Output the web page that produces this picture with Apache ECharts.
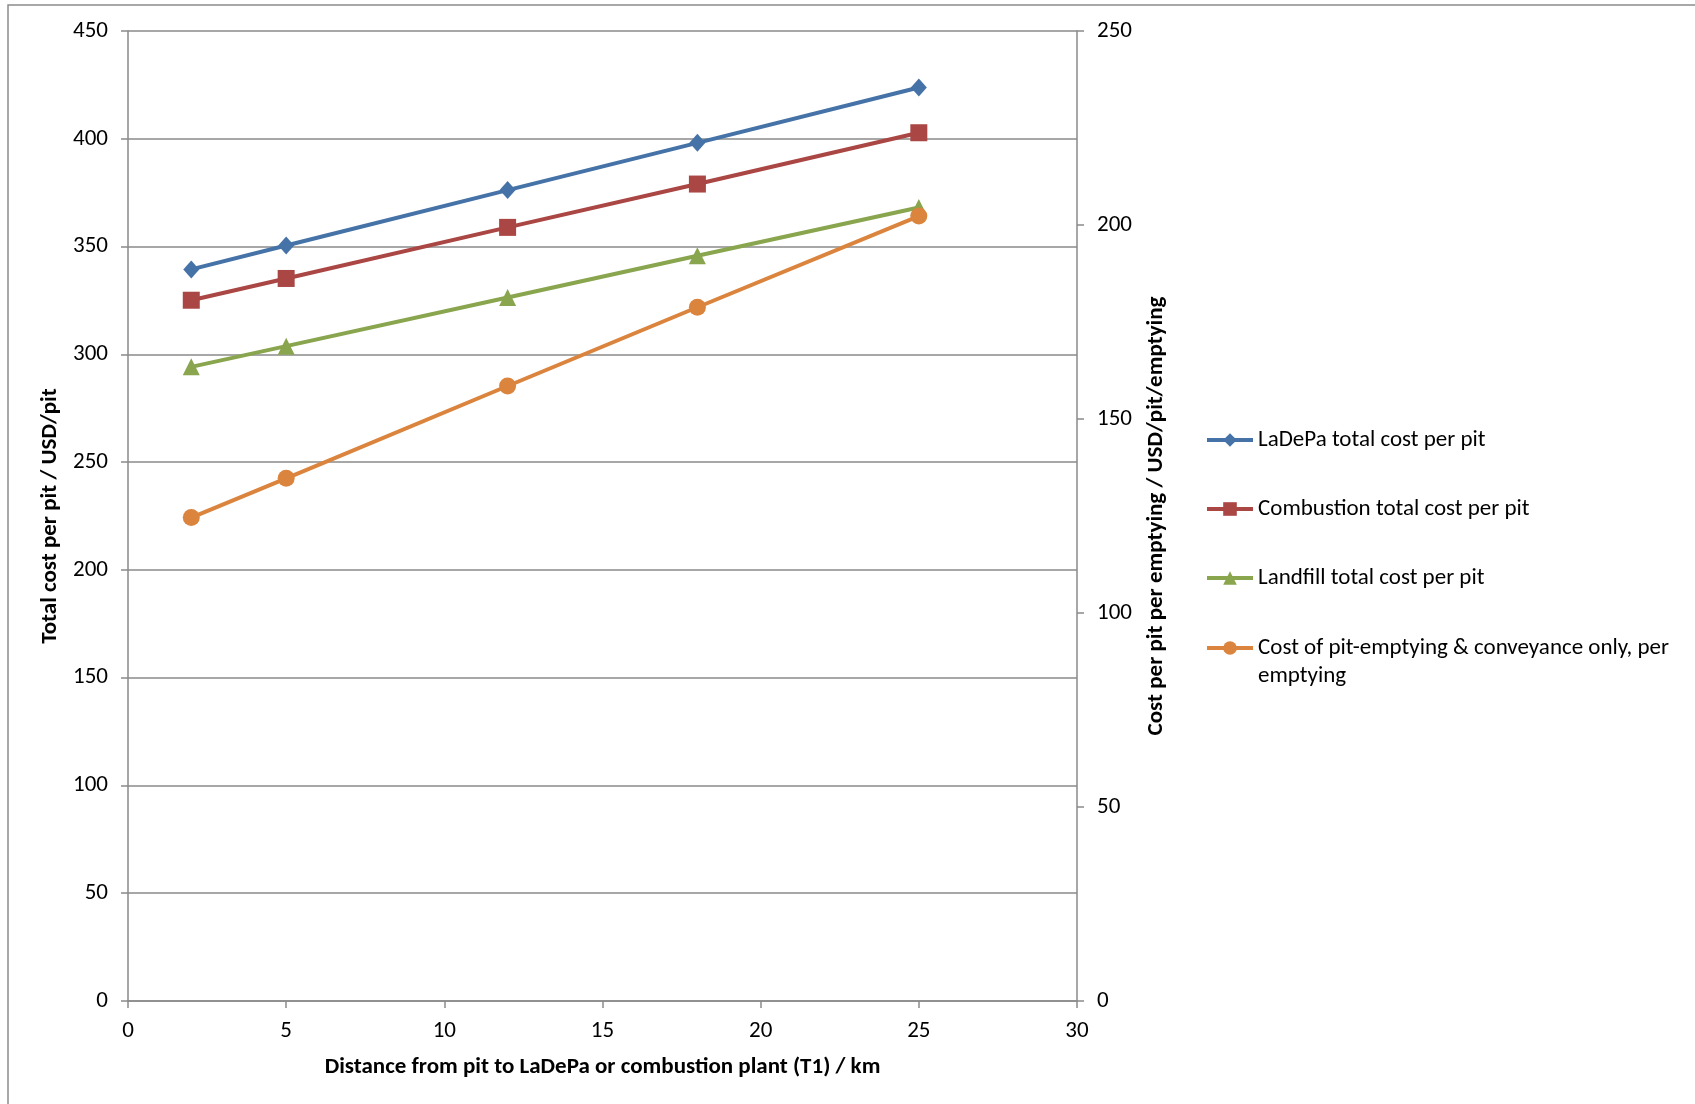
<!DOCTYPE html>
<html>
<head>
<meta charset="utf-8">
<title>Cost per pit vs distance</title>
<script src="https://cdn.jsdelivr.net/npm/echarts@6/dist/echarts.min.js"></script>
<style>
  html, body { margin: 0; padding: 0; background: #fff; }
  #chart { width: 1695px; height: 1104px; }
</style>
</head>
<body>
<div id="chart"></div>
<script>
// Distance from pit to plant (km)
const distances = [2, 5, 12, 18, 25];

// Total cost per pit (USD/pit), left axis
const ladepaTotal = [339.4, 350.5, 376.2, 398.1, 423.8];
const combustionTotal = [325.1, 335.2, 358.9, 379.0, 402.8];
const landfillTotal = [294.2, 303.8, 326.4, 345.7, 368.1];

// Cost per emptying (USD/pit/emptying), right axis
const emptyingCost = [124.6, 134.7, 158.5, 178.8, 202.3];

const seriesNames = [
  'LaDePa total cost per pit',
  'Combustion total cost per pit',
  'Landfill total cost per pit',
  'Cost of pit-emptying & conveyance only, per\nemptying'
];

const xAxisTitle = 'Distance from pit to LaDePa or combustion plant (T1) / km';
const leftAxisTitle = 'Total cost per pit / USD/pit';
const rightAxisTitle = 'Cost per pit per emptying / USD/pit/emptying';

const FONT = 'Carlito, Lato, "Open Sans", sans-serif';
const FONT_SIZE = 23;
const GRID_COLOR = '#8a8a8a';

const pairs = vals => distances.map((d, i) => [d, vals[i]]);

const chart = echarts.init(document.getElementById('chart'), null, { renderer: 'canvas' });

const axisLabel = { color: '#000', fontSize: FONT_SIZE, fontFamily: FONT };
const axisName = { color: '#000', fontSize: FONT_SIZE, fontWeight: 'bold', fontFamily: FONT };

function lineSeries(name, data, color, symbol, size, yIdx) {
  return {
    name: name,
    type: 'line',
    yAxisIndex: yIdx,
    data: data,
    symbol: symbol,
    symbolSize: size,
    showSymbol: true,
    lineStyle: { color: color, width: 4 },
    itemStyle: { color: color },
    emphasis: { disabled: true },
    z: 3
  };
}

// shared legend look; the wrapped last entry sits in its own block so
// its icon lines up with the first line of text
const legendBase = {
  orient: 'vertical',
  left: 1205,
  padding: 0,
  itemWidth: 46,
  itemHeight: 17,
  lineStyle: { width: 4 },
  textStyle: { color: '#000', fontSize: FONT_SIZE, fontFamily: FONT, lineHeight: 28 }
};

chart.setOption({
  animation: false,
  backgroundColor: '#fff',
  graphic: [{
    type: 'rect',
    silent: true,
    shape: { x: 8, y: 5, width: 1720, height: 1200 },
    style: { fill: 'none', stroke: '#8c8c8c', lineWidth: 1.5 }
  }],
  grid: { left: 128, right: 618, top: 31, bottom: 103, containLabel: false },
  legend: [
    Object.assign({}, legendBase, {
      top: 426,
      itemGap: 41,
      data: seriesNames.slice(0, 3)
    }),
    Object.assign({}, legendBase, {
      top: 606,
      data: [seriesNames[3]],
      formatter: name => '\n' + name
    })
  ],
  xAxis: {
    type: 'value',
    min: 0, max: 30, interval: 5,
    name: xAxisTitle,
    nameLocation: 'middle',
    nameGap: 55,
    nameTextStyle: axisName,
    axisLine: { show: true, lineStyle: { color: GRID_COLOR, width: 1.5 } },
    axisTick: { show: true, length: 7, lineStyle: { color: GRID_COLOR, width: 1.5 } },
    axisLabel: Object.assign({ margin: 19 }, axisLabel),
    splitLine: { show: false }
  },
  yAxis: [{
    type: 'value',
    position: 'left',
    min: 0, max: 450, interval: 50,
    name: leftAxisTitle,
    nameLocation: 'middle',
    nameGap: 60,
    nameTextStyle: axisName,
    axisLine: { show: true, lineStyle: { color: GRID_COLOR, width: 1.5 } },
    axisTick: { show: true, length: 7, lineStyle: { color: GRID_COLOR, width: 1.5 } },
    axisLabel: Object.assign({ margin: 20 }, axisLabel),
    splitLine: { show: true, lineStyle: { color: GRID_COLOR, width: 1.5 } }
  }, {
    type: 'value',
    position: 'right',
    min: 0, max: 250, interval: 50,
    name: rightAxisTitle,
    nameLocation: 'middle',
    nameGap: 68,
    nameRotate: 90,
    nameTextStyle: axisName,
    axisLine: { show: true, lineStyle: { color: GRID_COLOR, width: 1.5 } },
    axisTick: { show: true, length: 7, lineStyle: { color: GRID_COLOR, width: 1.5 } },
    axisLabel: Object.assign({ margin: 20 }, axisLabel),
    splitLine: { show: false }
  }],
  series: [
    lineSeries(seriesNames[0], pairs(ladepaTotal), '#4572A7', 'diamond', [16, 18], 0),
    lineSeries(seriesNames[1], pairs(combustionTotal), '#AA4643', 'rect', 17, 0),
    lineSeries(seriesNames[2], pairs(landfillTotal), '#89A54E', 'triangle', 17, 0),
    lineSeries(seriesNames[3], pairs(emptyingCost), '#DB843D', 'circle', 17, 1)
  ]
});
</script>
</body>
</html>
